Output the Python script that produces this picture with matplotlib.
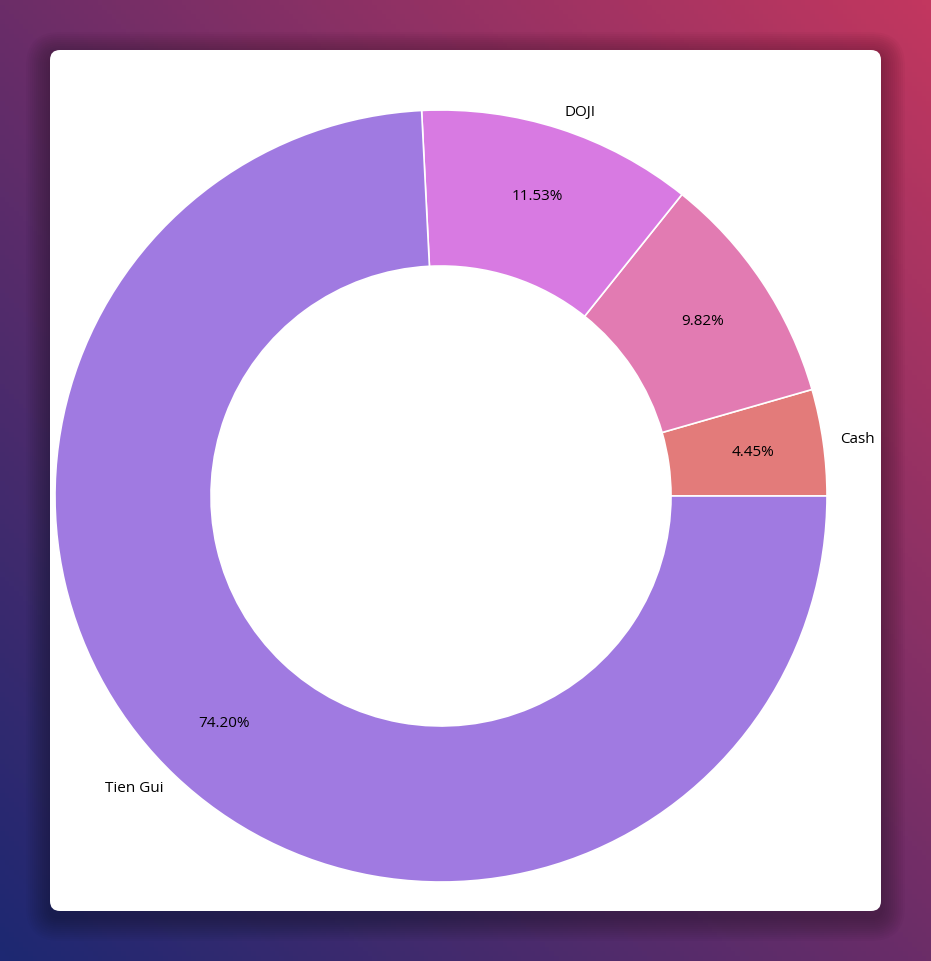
import numpy as np
import matplotlib.pyplot as plt
from matplotlib.patches import FancyBboxPatch
from matplotlib.colors import LinearSegmentedColormap

labels = ["Cash", "", "DOJI", "Tien Gui"]
shares = [4.45, 9.82, 11.53, 74.20]
colors = ["#e37b7a", "#e27bb2", "#d87ae2", "#a07ae1"]

W, H = 931, 961
fig = plt.figure(figsize=(W / 100, H / 100), dpi=100)
plt.rcParams['font.family'] = ['Open Sans', 'DejaVu Sans']

# background gradient, bottom-left blue to top-right pink
bg = fig.add_axes([0, 0, 1, 1])
bg.set_axis_off()
yy, xx = np.mgrid[0:1:200j, 0:1:200j]
t = (xx + yy) / 2
cmap = LinearSegmentedColormap.from_list("bg", ["#1d2872", "#6b2d68", "#c2375f"])
bg.imshow(t, cmap=cmap, origin="lower", extent=[0, 1, 0, 1], aspect="auto")
bg.set_xlim(0, 1)
bg.set_ylim(0, 1)

# card shadow + card
x0, y0, x1, y1 = 50, 50, 881, 911
for i in range(12, 0, -1):
    sh = FancyBboxPatch((x0 / W, 1 - (y1 + 6) / H), (x1 - x0) / W, (y1 - y0) / H,
                        boxstyle=f"round,pad={i * 2 / W},rounding_size={(10 + i * 2) / W}",
                        transform=bg.transAxes, facecolor="black", edgecolor="none",
                        alpha=0.025, mutation_aspect=W / H)
    bg.add_patch(sh)
card = FancyBboxPatch((x0 / W, 1 - y1 / H), (x1 - x0) / W, (y1 - y0) / H,
                      boxstyle=f"round,pad=0,rounding_size={10 / W}",
                      transform=bg.transAxes, facecolor="white", edgecolor="none",
                      mutation_aspect=W / H)
bg.add_patch(card)

# donut
cx, cy, r = 441, 496, 386
ax = fig.add_axes([(cx - r) / W, (H - cy - r) / H, 2 * r / W, 2 * r / H])
wedges, texts, autotexts = ax.pie(
    shares, labels=labels, colors=colors, startangle=0, counterclock=True,
    autopct="%.2f%%", pctdistance=0.815, labeldistance=1.045,
    wedgeprops=dict(width=1 - 230 / 386, edgecolor="white", linewidth=1.2),
    textprops=dict(fontsize=11, color="black"))
ax.set_xlim(-1, 1)
ax.set_ylim(-1, 1)
ax.set_axis_off()

fig.savefig("out.png", dpi=100)
